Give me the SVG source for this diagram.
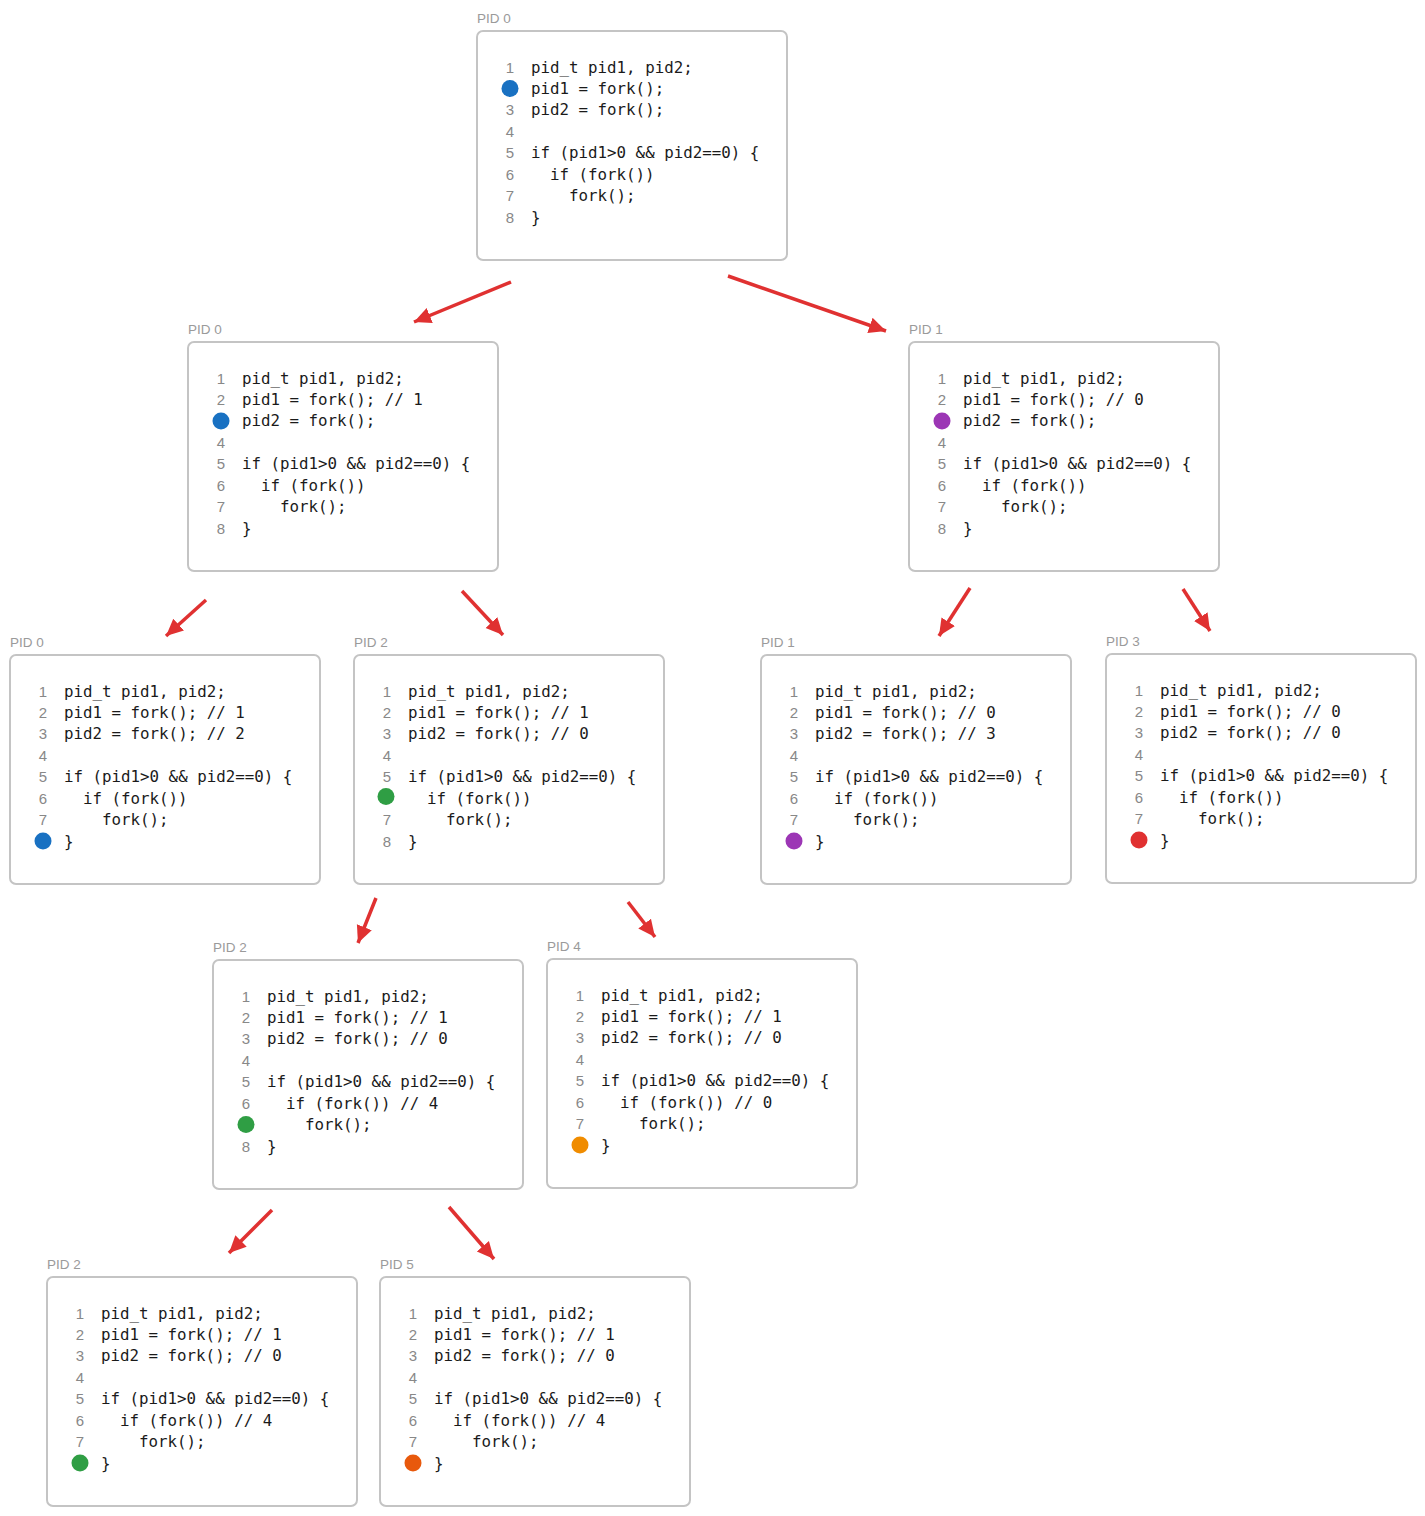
<svg xmlns="http://www.w3.org/2000/svg" width="1425" height="1516" viewBox="0 0 1425 1516">
<style>
.box{fill:#fff;stroke:#c4c4c4;stroke-width:2}
.lbl{font-family:"Liberation Sans",Arial,sans-serif;font-size:13.5px;fill:#9a9a9a}
.ln{font-family:"Liberation Sans",Arial,sans-serif;font-size:15px;fill:#888;text-anchor:middle}
.c{font-family:"DejaVu Sans Mono","Liberation Mono",monospace;font-size:15.8px;fill:#1a1a1a}
.arr{stroke:#e03131;stroke-width:3.5;fill:none;marker-end:url(#ah)}
</style>
<defs>
<marker id="ah" markerUnits="userSpaceOnUse" markerWidth="22" markerHeight="22" refX="17" refY="9" orient="auto">
<path d="M0,1 L17,9 L0,17 Z" fill="#e03131"/>
</marker>
</defs>
<rect width="1425" height="1516" fill="#fff"/>
<g id="connectors">
<line class="arr" x1="511" y1="282" x2="414" y2="322"/>
<line class="arr" x1="728" y1="276" x2="886" y2="331"/>
<line class="arr" x1="206" y1="600" x2="166" y2="636"/>
<line class="arr" x1="462" y1="591" x2="503" y2="635"/>
<line class="arr" x1="970" y1="588" x2="939" y2="636"/>
<line class="arr" x1="1183" y1="589" x2="1210" y2="631"/>
<line class="arr" x1="376" y1="898" x2="358" y2="943"/>
<line class="arr" x1="628" y1="902" x2="655" y2="937"/>
<line class="arr" x1="272" y1="1210" x2="229" y2="1253"/>
<line class="arr" x1="449" y1="1207" x2="494" y2="1259"/>
</g>
<g id="nodeA" transform="translate(477,31)">
<text class="lbl" x="0" y="-8">PID 0</text>
<rect class="box" x="0" y="0" width="310" height="229" rx="6"/>
<text class="ln" x="33" y="41.5">1</text><text class="c" x="54" y="41.5">pid_t pid1, pid2;</text>
<circle cx="33" cy="57.4" r="8.5" fill="#1971c2"/><text class="c" x="54" y="62.9">pid1 = fork();</text>
<text class="ln" x="33" y="84.4">3</text><text class="c" x="54" y="84.4">pid2 = fork();</text>
<text class="ln" x="33" y="105.8">4</text>
<text class="ln" x="33" y="127.2">5</text><text class="c" x="54" y="127.2">if (pid1&gt;0 &amp;&amp; pid2==0) {</text>
<text class="ln" x="33" y="148.6">6</text><text class="c" x="73" y="148.6">if (fork())</text>
<text class="ln" x="33" y="170.1">7</text><text class="c" x="92" y="170.1">fork();</text>
<text class="ln" x="33" y="191.5">8</text><text class="c" x="54" y="191.5">}</text>
</g>
<g id="nodeB" transform="translate(188,342)">
<text class="lbl" x="0" y="-8">PID 0</text>
<rect class="box" x="0" y="0" width="310" height="229" rx="6"/>
<text class="ln" x="33" y="41.5">1</text><text class="c" x="54" y="41.5">pid_t pid1, pid2;</text>
<text class="ln" x="33" y="62.9">2</text><text class="c" x="54" y="62.9">pid1 = fork(); // 1</text>
<circle cx="33" cy="78.9" r="8.5" fill="#1971c2"/><text class="c" x="54" y="84.4">pid2 = fork();</text>
<text class="ln" x="33" y="105.8">4</text>
<text class="ln" x="33" y="127.2">5</text><text class="c" x="54" y="127.2">if (pid1&gt;0 &amp;&amp; pid2==0) {</text>
<text class="ln" x="33" y="148.6">6</text><text class="c" x="73" y="148.6">if (fork())</text>
<text class="ln" x="33" y="170.1">7</text><text class="c" x="92" y="170.1">fork();</text>
<text class="ln" x="33" y="191.5">8</text><text class="c" x="54" y="191.5">}</text>
</g>
<g id="nodeC" transform="translate(909,342)">
<text class="lbl" x="0" y="-8">PID 1</text>
<rect class="box" x="0" y="0" width="310" height="229" rx="6"/>
<text class="ln" x="33" y="41.5">1</text><text class="c" x="54" y="41.5">pid_t pid1, pid2;</text>
<text class="ln" x="33" y="62.9">2</text><text class="c" x="54" y="62.9">pid1 = fork(); // 0</text>
<circle cx="33" cy="78.9" r="8.5" fill="#9c36b5"/><text class="c" x="54" y="84.4">pid2 = fork();</text>
<text class="ln" x="33" y="105.8">4</text>
<text class="ln" x="33" y="127.2">5</text><text class="c" x="54" y="127.2">if (pid1&gt;0 &amp;&amp; pid2==0) {</text>
<text class="ln" x="33" y="148.6">6</text><text class="c" x="73" y="148.6">if (fork())</text>
<text class="ln" x="33" y="170.1">7</text><text class="c" x="92" y="170.1">fork();</text>
<text class="ln" x="33" y="191.5">8</text><text class="c" x="54" y="191.5">}</text>
</g>
<g id="nodeD" transform="translate(10,655)">
<text class="lbl" x="0" y="-8">PID 0</text>
<rect class="box" x="0" y="0" width="310" height="229" rx="6"/>
<text class="ln" x="33" y="41.5">1</text><text class="c" x="54" y="41.5">pid_t pid1, pid2;</text>
<text class="ln" x="33" y="62.9">2</text><text class="c" x="54" y="62.9">pid1 = fork(); // 1</text>
<text class="ln" x="33" y="84.4">3</text><text class="c" x="54" y="84.4">pid2 = fork(); // 2</text>
<text class="ln" x="33" y="105.8">4</text>
<text class="ln" x="33" y="127.2">5</text><text class="c" x="54" y="127.2">if (pid1&gt;0 &amp;&amp; pid2==0) {</text>
<text class="ln" x="33" y="148.6">6</text><text class="c" x="73" y="148.6">if (fork())</text>
<text class="ln" x="33" y="170.1">7</text><text class="c" x="92" y="170.1">fork();</text>
<circle cx="33" cy="186" r="8.5" fill="#1971c2"/><text class="c" x="54" y="191.5">}</text>
</g>
<g id="nodeE" transform="translate(354,655)">
<text class="lbl" x="0" y="-8">PID 2</text>
<rect class="box" x="0" y="0" width="310" height="229" rx="6"/>
<text class="ln" x="33" y="41.5">1</text><text class="c" x="54" y="41.5">pid_t pid1, pid2;</text>
<text class="ln" x="33" y="62.9">2</text><text class="c" x="54" y="62.9">pid1 = fork(); // 1</text>
<text class="ln" x="33" y="84.4">3</text><text class="c" x="54" y="84.4">pid2 = fork(); // 0</text>
<text class="ln" x="33" y="105.8">4</text>
<text class="ln" x="33" y="127.2">5</text><text class="c" x="54" y="127.2">if (pid1&gt;0 &amp;&amp; pid2==0) {</text>
<circle cx="32" cy="141.6" r="8.5" fill="#2f9e44"/><text class="c" x="73" y="148.6">if (fork())</text>
<text class="ln" x="33" y="170.1">7</text><text class="c" x="92" y="170.1">fork();</text>
<text class="ln" x="33" y="191.5">8</text><text class="c" x="54" y="191.5">}</text>
</g>
<g id="nodeF" transform="translate(761,655)">
<text class="lbl" x="0" y="-8">PID 1</text>
<rect class="box" x="0" y="0" width="310" height="229" rx="6"/>
<text class="ln" x="33" y="41.5">1</text><text class="c" x="54" y="41.5">pid_t pid1, pid2;</text>
<text class="ln" x="33" y="62.9">2</text><text class="c" x="54" y="62.9">pid1 = fork(); // 0</text>
<text class="ln" x="33" y="84.4">3</text><text class="c" x="54" y="84.4">pid2 = fork(); // 3</text>
<text class="ln" x="33" y="105.8">4</text>
<text class="ln" x="33" y="127.2">5</text><text class="c" x="54" y="127.2">if (pid1&gt;0 &amp;&amp; pid2==0) {</text>
<text class="ln" x="33" y="148.6">6</text><text class="c" x="73" y="148.6">if (fork())</text>
<text class="ln" x="33" y="170.1">7</text><text class="c" x="92" y="170.1">fork();</text>
<circle cx="33" cy="186" r="8.5" fill="#9c36b5"/><text class="c" x="54" y="191.5">}</text>
</g>
<g id="nodeG" transform="translate(1106,654)">
<text class="lbl" x="0" y="-8">PID 3</text>
<rect class="box" x="0" y="0" width="310" height="229" rx="6"/>
<text class="ln" x="33" y="41.5">1</text><text class="c" x="54" y="41.5">pid_t pid1, pid2;</text>
<text class="ln" x="33" y="62.9">2</text><text class="c" x="54" y="62.9">pid1 = fork(); // 0</text>
<text class="ln" x="33" y="84.4">3</text><text class="c" x="54" y="84.4">pid2 = fork(); // 0</text>
<text class="ln" x="33" y="105.8">4</text>
<text class="ln" x="33" y="127.2">5</text><text class="c" x="54" y="127.2">if (pid1&gt;0 &amp;&amp; pid2==0) {</text>
<text class="ln" x="33" y="148.6">6</text><text class="c" x="73" y="148.6">if (fork())</text>
<text class="ln" x="33" y="170.1">7</text><text class="c" x="92" y="170.1">fork();</text>
<circle cx="33" cy="186" r="8.5" fill="#e03131"/><text class="c" x="54" y="191.5">}</text>
</g>
<g id="nodeH" transform="translate(213,960)">
<text class="lbl" x="0" y="-8">PID 2</text>
<rect class="box" x="0" y="0" width="310" height="229" rx="6"/>
<text class="ln" x="33" y="41.5">1</text><text class="c" x="54" y="41.5">pid_t pid1, pid2;</text>
<text class="ln" x="33" y="62.9">2</text><text class="c" x="54" y="62.9">pid1 = fork(); // 1</text>
<text class="ln" x="33" y="84.4">3</text><text class="c" x="54" y="84.4">pid2 = fork(); // 0</text>
<text class="ln" x="33" y="105.8">4</text>
<text class="ln" x="33" y="127.2">5</text><text class="c" x="54" y="127.2">if (pid1&gt;0 &amp;&amp; pid2==0) {</text>
<text class="ln" x="33" y="148.6">6</text><text class="c" x="73" y="148.6">if (fork()) // 4</text>
<circle cx="33" cy="164.6" r="8.5" fill="#2f9e44"/><text class="c" x="92" y="170.1">fork();</text>
<text class="ln" x="33" y="191.5">8</text><text class="c" x="54" y="191.5">}</text>
</g>
<g id="nodeI" transform="translate(547,959)">
<text class="lbl" x="0" y="-8">PID 4</text>
<rect class="box" x="0" y="0" width="310" height="229" rx="6"/>
<text class="ln" x="33" y="41.5">1</text><text class="c" x="54" y="41.5">pid_t pid1, pid2;</text>
<text class="ln" x="33" y="62.9">2</text><text class="c" x="54" y="62.9">pid1 = fork(); // 1</text>
<text class="ln" x="33" y="84.4">3</text><text class="c" x="54" y="84.4">pid2 = fork(); // 0</text>
<text class="ln" x="33" y="105.8">4</text>
<text class="ln" x="33" y="127.2">5</text><text class="c" x="54" y="127.2">if (pid1&gt;0 &amp;&amp; pid2==0) {</text>
<text class="ln" x="33" y="148.6">6</text><text class="c" x="73" y="148.6">if (fork()) // 0</text>
<text class="ln" x="33" y="170.1">7</text><text class="c" x="92" y="170.1">fork();</text>
<circle cx="33" cy="186" r="8.5" fill="#f08c00"/><text class="c" x="54" y="191.5">}</text>
</g>
<g id="nodeJ" transform="translate(47,1277)">
<text class="lbl" x="0" y="-8">PID 2</text>
<rect class="box" x="0" y="0" width="310" height="229" rx="6"/>
<text class="ln" x="33" y="41.5">1</text><text class="c" x="54" y="41.5">pid_t pid1, pid2;</text>
<text class="ln" x="33" y="62.9">2</text><text class="c" x="54" y="62.9">pid1 = fork(); // 1</text>
<text class="ln" x="33" y="84.4">3</text><text class="c" x="54" y="84.4">pid2 = fork(); // 0</text>
<text class="ln" x="33" y="105.8">4</text>
<text class="ln" x="33" y="127.2">5</text><text class="c" x="54" y="127.2">if (pid1&gt;0 &amp;&amp; pid2==0) {</text>
<text class="ln" x="33" y="148.6">6</text><text class="c" x="73" y="148.6">if (fork()) // 4</text>
<text class="ln" x="33" y="170.1">7</text><text class="c" x="92" y="170.1">fork();</text>
<circle cx="33" cy="186" r="8.5" fill="#2f9e44"/><text class="c" x="54" y="191.5">}</text>
</g>
<g id="nodeK" transform="translate(380,1277)">
<text class="lbl" x="0" y="-8">PID 5</text>
<rect class="box" x="0" y="0" width="310" height="229" rx="6"/>
<text class="ln" x="33" y="41.5">1</text><text class="c" x="54" y="41.5">pid_t pid1, pid2;</text>
<text class="ln" x="33" y="62.9">2</text><text class="c" x="54" y="62.9">pid1 = fork(); // 1</text>
<text class="ln" x="33" y="84.4">3</text><text class="c" x="54" y="84.4">pid2 = fork(); // 0</text>
<text class="ln" x="33" y="105.8">4</text>
<text class="ln" x="33" y="127.2">5</text><text class="c" x="54" y="127.2">if (pid1&gt;0 &amp;&amp; pid2==0) {</text>
<text class="ln" x="33" y="148.6">6</text><text class="c" x="73" y="148.6">if (fork()) // 4</text>
<text class="ln" x="33" y="170.1">7</text><text class="c" x="92" y="170.1">fork();</text>
<circle cx="33" cy="186" r="8.5" fill="#e8590c"/><text class="c" x="54" y="191.5">}</text>
</g>
</svg>
